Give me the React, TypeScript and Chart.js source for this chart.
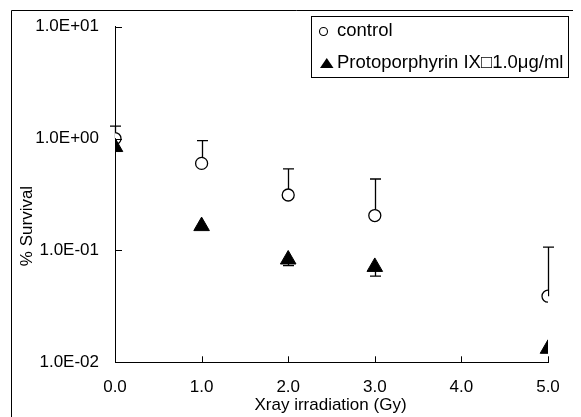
import React, { useEffect, useRef } from "react";
import { Chart, registerables } from "chart.js";

Chart.register(...registerables);

const doses = [0, 1, 2, 3, 5];
const controlSurvival = [1.0, 0.6, 0.313, 0.205, 0.039];
const controlErrTop = [1.29, 0.96, 0.535, 0.435, 0.107];
const ppixSurvival = [0.84, 0.165, 0.083, 0.0712, 0.0132];
const ppixErrBottom: (number | null)[] = [null, null, 0.073, 0.059, null];
const xTickValues = [0, 1, 2, 3, 4, 5];
const xTickLabels = ["0.0", "1.0", "2.0", "3.0", "4.0", "5.0"];
const yTickValues = [0.01, 0.1, 1, 10];
const yTickLabels = ["1.0E-02", "1.0E-01", "1.0E+00", "1.0E+01"];
const seriesNames = ["control", "Protoporphyrin IX\u25A11.0\u03BCg/ml"];
const xTitle = "Xray irradiation (Gy)";
const yTitle = "% Survival";

const FONT = "'Liberation Sans', Arial, sans-serif";

const decorPlugin = {
  id: "decor",
  beforeDatasetsDraw(chart: any) {
    const { ctx, scales } = chart;
    const x = scales.x;
    const y = scales.y;
    ctx.save();
    ctx.strokeStyle = "#000";
    ctx.lineWidth = 1.3;
    doses.forEach((d, i) => {
      const px = Math.round(x.getPixelForValue(d)) + 0.5;
      const top = controlErrTop[i];
      if (top != null) {
        const p0 = y.getPixelForValue(controlSurvival[i]);
        const p1 = y.getPixelForValue(top);
        ctx.beginPath();
        ctx.moveTo(px, p0);
        ctx.lineTo(px, p1);
        ctx.moveTo(px - 5.5, p1);
        ctx.lineTo(px + 5.5, p1);
        ctx.stroke();
      }
      const bot = ppixErrBottom[i];
      if (bot != null) {
        const p0 = y.getPixelForValue(ppixSurvival[i]);
        const p1 = y.getPixelForValue(bot);
        ctx.beginPath();
        ctx.moveTo(px, p0);
        ctx.lineTo(px, p1);
        ctx.moveTo(px - 5.5, p1);
        ctx.lineTo(px + 5.5, p1);
        ctx.stroke();
      }
    });
    ctx.restore();
  },
  afterDraw(chart: any) {
    const { ctx, scales, chartArea, width, height } = chart;
    const x = scales.x;
    const y = scales.y;
    ctx.save();
    ctx.strokeStyle = "#000";
    ctx.lineWidth = 1;
    // inner tick marks
    ctx.beginPath();
    xTickValues.forEach((v) => {
      const px = Math.round(x.getPixelForValue(v)) + 0.5;
      ctx.moveTo(px, chartArea.bottom);
      ctx.lineTo(px, chartArea.bottom - 6);
    });
    yTickValues.forEach((v) => {
      const py = Math.round(y.getPixelForValue(v)) + 0.5;
      ctx.moveTo(chartArea.left, py);
      ctx.lineTo(chartArea.left + 7, py);
    });
    ctx.stroke();
    // outer frame (top and left)
    ctx.beginPath();
    ctx.moveTo(3.5, height + 5);
    ctx.lineTo(3.5, 2.5);
    ctx.lineTo(width + 5, 2.5);
    ctx.stroke();
    // legend
    ctx.strokeRect(303.5, 8.5, 257, 61);
    ctx.lineWidth = 1.1;
    ctx.beginPath();
    ctx.arc(315.5, 23.5, 4, 0, Math.PI * 2);
    ctx.stroke();
    ctx.fillStyle = "#000";
    ctx.beginPath();
    ctx.moveTo(312, 60);
    ctx.lineTo(325.5, 60);
    ctx.lineTo(318.75, 50);
    ctx.closePath();
    ctx.fill();
    ctx.font = `18.5px ${FONT}`;
    ctx.textAlign = "left";
    ctx.textBaseline = "middle";
    ctx.fillText(seriesNames[0], 329, 23);
    ctx.fillText(seriesNames[1], 329, 55);
    // axis titles
    ctx.font = `17px ${FONT}`;
    ctx.textAlign = "center";
    ctx.fillText(xTitle, (chartArea.left + chartArea.right) / 2 - 1, 397);
    ctx.save();
    ctx.translate(19, 218);
    ctx.rotate(-Math.PI / 2);
    ctx.fillText(yTitle, 0, 0);
    ctx.restore();
    ctx.restore();
  },
};

export default function App() {
  const ref = useRef<HTMLCanvasElement | null>(null);
  useEffect(() => {
    document.documentElement.style.overflow = "hidden";
    const canvas = ref.current;
    if (!canvas) return;
    const chart = new Chart(canvas, {
      type: "scatter",
      data: {
        datasets: [
          {
            label: seriesNames[1],
            data: doses.map((d, i) => ({ x: d, y: ppixSurvival[i] })),
            pointStyle: "triangle",
            pointRadius: 9,
            pointBackgroundColor: "#000",
            pointBorderColor: "#000",
            pointBorderWidth: 1,
            showLine: false,
          },
          {
            label: seriesNames[0],
            data: doses.map((d, i) => ({ x: d, y: controlSurvival[i] })),
            pointStyle: "circle",
            pointRadius: 6,
            pointBackgroundColor: "#fff",
            pointBorderColor: "#000",
            pointBorderWidth: 1.3,
            showLine: false,
          },
        ],
      },
      options: {
        responsive: false,
        animation: false,
        devicePixelRatio: 1,
        layout: { padding: { left: 0, right: 33, top: 18.7, bottom: 0 } },
        plugins: { legend: { display: false }, tooltip: { enabled: false } },
        events: [],
        scales: {
          x: {
            type: "linear",
            position: "bottom",
            min: 0,
            max: 5,
            afterBuildTicks: (s: any) => {
              s.ticks = xTickValues.map((v) => ({ value: v }));
            },
            afterFit: (s: any) => {
              s.height = 54.7;
              s.paddingLeft = 0;
              s.paddingRight = 0;
            },
            ticks: {
              autoSkip: false,
              maxRotation: 0,
              padding: 15,
              color: "#000",
              font: { size: 17, family: FONT },
              callback: (_v: any, i: number) => xTickLabels[i],
            },
            grid: { display: false, drawTicks: false },
            border: { display: true, color: "#000", width: 1 },
          },
          y: {
            type: "logarithmic",
            position: "left",
            min: 0.01,
            max: 10,
            afterBuildTicks: (s: any) => {
              s.ticks = yTickValues.map((v) => ({ value: v }));
            },
            afterFit: (s: any) => {
              s.width = 107;
              s.paddingTop = 0;
              s.paddingBottom = 0;
            },
            ticks: {
              autoSkip: false,
              padding: 16,
              color: "#000",
              font: { size: 17, family: FONT },
              callback: (_v: any, i: number) => yTickLabels[i],
            },
            grid: { display: false, drawTicks: false },
            border: { display: true, color: "#000", width: 1 },
          },
        },
      },
      plugins: [decorPlugin],
    } as any);
    return () => chart.destroy();
  }, []);
  return (
    <div style={{ width: 573, height: 409 }}>
      <canvas ref={ref} width={573} height={409} style={{ display: "block" }} />
    </div>
  );
}
